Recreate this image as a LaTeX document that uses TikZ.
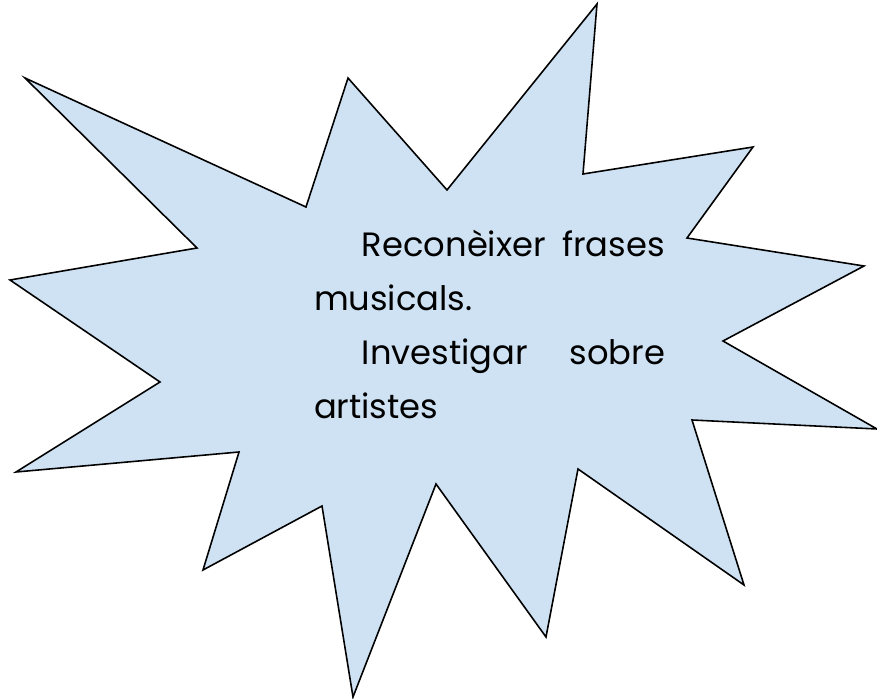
\documentclass[tikz,border=0pt]{standalone}
\usepackage{fontspec}
\setmainfont{Poppins}
\usetikzlibrary{positioning}
\definecolor{burstblue}{RGB}{207,226,243}

\begin{document}
\begin{tikzpicture}[x=0.02cm, y=-0.02cm,
		burst/.style = {
			fill=burstblue, draw=black,
			line width=0.9pt,
			line join=miter
			},
		note/.style = {
			inner sep=0cm, outer sep=0cm,
			anchor=north west,
			text width=7.02cm, align=left,
			font=\fontsize{19.2}{30.7}\selectfont
			}
		]
		\useasboundingbox (0,0) rectangle (877,699);
		
		% star burst
		\draw[burst] (597,4) -- (583,174) -- (753,147) -- (687,238)
			-- (864,266) -- (723,341) -- (877,429) -- (692,420)
			-- (744,585) -- (578,469) -- (546,637) -- (436,484)
			-- (353,697) -- (322,506) -- (203,570) -- (239,452)
			-- (16,472) -- (160,382) -- (10,280) -- (197,248)
			-- (25,78) -- (306,207) -- (348,78) -- (447,190) -- cycle;
		
		\node[note] (txt) at (314,230) {\hspace*{0.96cm}Reconèixer\hfill frases\\musicals.\\\hspace*{0.96cm}Investigar\hfill sobre\\artistes};
		
	\end{tikzpicture}
\end{document}
